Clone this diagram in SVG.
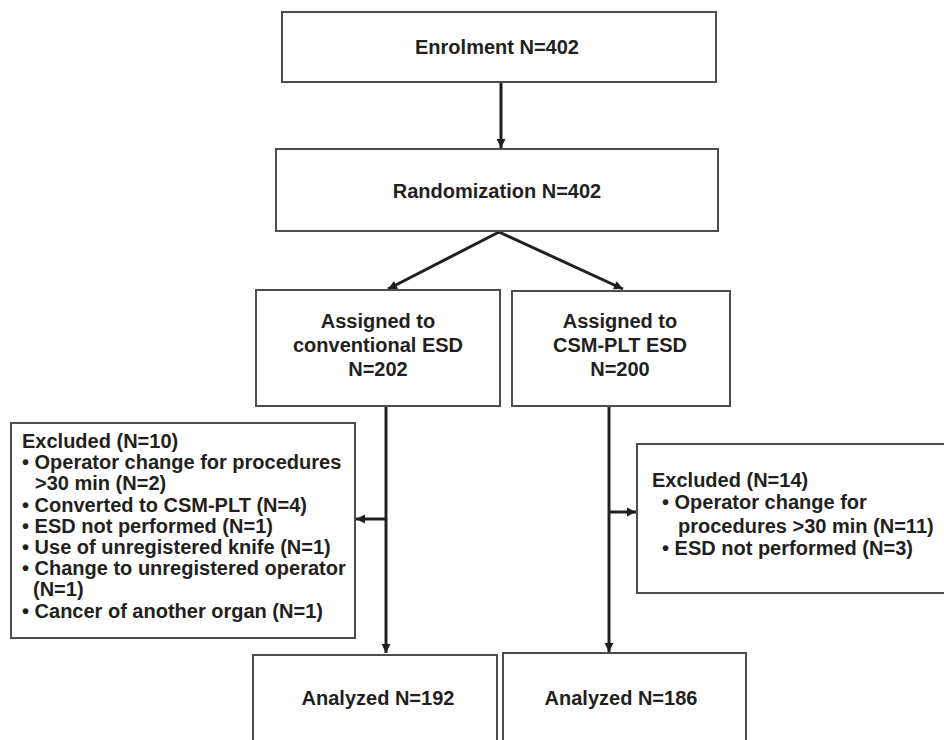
<svg xmlns="http://www.w3.org/2000/svg" width="944" height="740" viewBox="0 0 944 740">
<defs>
<style>
.box{fill:#fff;stroke:#4d4d4d;stroke-width:2}
.t{font-family:"Liberation Sans",Arial,sans-serif;font-weight:bold;font-size:20px;fill:#231f20}
.c{text-anchor:middle}
.ln{stroke:#231f20;stroke-width:3;fill:none}
</style>
<marker id="ah" markerUnits="userSpaceOnUse" markerWidth="12" markerHeight="12" viewBox="0 0 12 12" refX="10" refY="6" orient="auto">
<path d="M1,1.5 L10,6 L1,10.5 Z" fill="#231f20"/>
</marker>
</defs>
<rect width="944" height="740" fill="#fff"/>
<g id="connectors">
<line class="ln" x1="501" y1="82" x2="501" y2="148" marker-end="url(#ah)"/>
<line class="ln" x1="499" y1="232" x2="388" y2="289" marker-end="url(#ah)"/>
<line class="ln" x1="499" y1="232" x2="623" y2="289" marker-end="url(#ah)"/>
<line class="ln" x1="386" y1="406" x2="386" y2="653" marker-end="url(#ah)"/>
<line class="ln" x1="609" y1="406" x2="609" y2="652" marker-end="url(#ah)"/>
<line class="ln" x1="386" y1="519" x2="356" y2="519" marker-end="url(#ah)"/>
<line class="ln" x1="609" y1="512" x2="636" y2="512" marker-end="url(#ah)"/>
</g>
<g id="enrolment">
<rect class="box" x="282" y="12" width="434" height="70"/>
<text class="t c" x="497" y="54">Enrolment N=402</text>
</g>
<g id="randomization">
<rect class="box" x="276" y="149" width="442" height="82"/>
<text class="t c" x="497" y="198">Randomization N=402</text>
</g>
<g id="assigned-conventional">
<rect class="box" x="256" y="290" width="244" height="116"/>
<text class="t c" x="378" y="328">Assigned to</text>
<text class="t c" x="378" y="352">conventional ESD</text>
<text class="t c" x="378" y="376">N=202</text>
</g>
<g id="assigned-csm">
<rect class="box" x="512" y="291" width="218" height="115"/>
<text class="t c" x="620" y="328">Assigned to</text>
<text class="t c" x="620" y="352">CSM-PLT ESD</text>
<text class="t c" x="620" y="376">N=200</text>
</g>
<g id="excluded-left">
<rect class="box" x="11" y="423" width="344" height="215"/>
<text class="t" x="22" y="448">Excluded (N=10)</text>
<text class="t" x="22" y="469">• Operator change for procedures</text>
<text class="t" x="35" y="490">&gt;30 min (N=2)</text>
<text class="t" x="22" y="512">• Converted to CSM-PLT (N=4)</text>
<text class="t" x="22" y="533">• ESD not performed (N=1)</text>
<text class="t" x="22" y="554">• Use of unregistered knife (N=1)</text>
<text class="t" x="22" y="575">• Change to unregistered operator</text>
<text class="t" x="33" y="596">(N=1)</text>
<text class="t" x="22" y="618">• Cancer of another organ (N=1)</text>
</g>
<g id="excluded-right">
<rect class="box" x="637" y="444" width="320" height="149"/>
<text class="t" x="652" y="487">Excluded (N=14)</text>
<text class="t" x="662" y="509">• Operator change for</text>
<text class="t" x="678" y="533">procedures &gt;30 min (N=11)</text>
<text class="t" x="662" y="555">• ESD not performed (N=3)</text>
</g>
<g id="analyzed-left">
<rect class="box" x="253" y="655" width="244" height="100"/>
<text class="t c" x="378" y="705">Analyzed N=192</text>
</g>
<g id="analyzed-right">
<rect class="box" x="503" y="653" width="243" height="102"/>
<text class="t c" x="621" y="705">Analyzed N=186</text>
</g>
</svg>
